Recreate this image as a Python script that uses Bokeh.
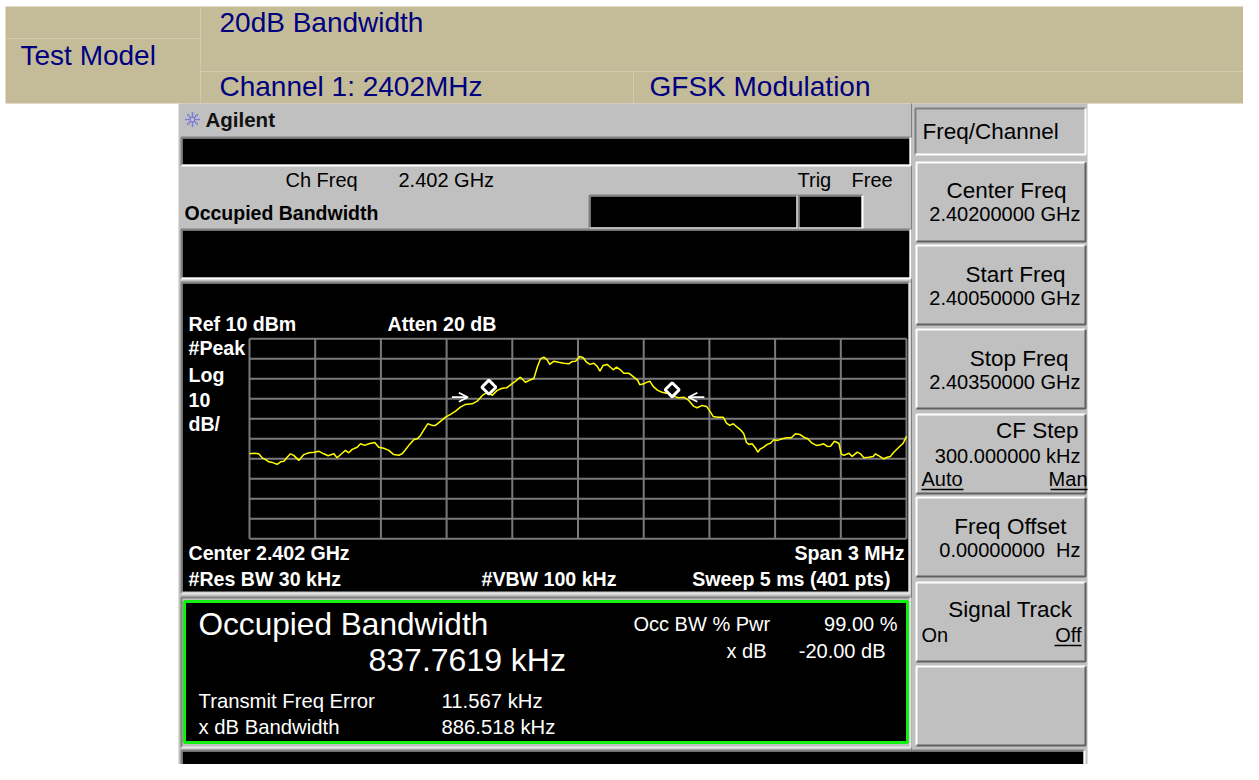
import numpy as np
from bokeh.plotting import figure
from bokeh.models import Range1d, Arrow, OpenHead
from bokeh.core.properties import value
from bokeh.embed import file_html
from bokeh.resources import INLINE

# ---------------- data ----------------
HEADER_LEFT = "Test Model"
HEADER_TITLE = "20dB Bandwidth"
HEADER_CHANNEL = "Channel 1: 2402MHz"
HEADER_MOD = "GFSK Modulation"

FREQ_START_MHZ = 2400.5
FREQ_STOP_MHZ = 2403.5
REF_LEVEL_DBM = 10
DB_PER_DIV = 10
N_DIV = 10

# trace (MHz, dBm)
FREQ_MHZ = [
    2400.500, 2400.520, 2400.542, 2400.558, 2400.576, 2400.588, 2400.604, 2400.626, 2400.642, 2400.657,
    2400.672, 2400.687, 2400.702, 2400.725, 2400.748, 2400.771, 2400.797, 2400.816, 2400.839, 2400.859,
    2400.885, 2400.900, 2400.923, 2400.938, 2400.953, 2400.969, 2400.992, 2401.007, 2401.026, 2401.045,
    2401.072, 2401.090, 2401.113, 2401.136, 2401.159, 2401.182, 2401.197, 2401.212, 2401.231, 2401.250,
    2401.266, 2401.281, 2401.296, 2401.314, 2401.334, 2401.349, 2401.372, 2401.395, 2401.418, 2401.441,
    2401.463, 2401.486, 2401.517, 2401.540, 2401.563, 2401.588, 2401.608, 2401.631, 2401.654, 2401.674,
    2401.692, 2401.715, 2401.737, 2401.760, 2401.783, 2401.798, 2401.814, 2401.829, 2401.844, 2401.859,
    2401.871, 2401.890, 2401.912, 2401.935, 2401.958, 2401.974, 2401.989, 2402.008, 2402.024, 2402.039,
    2402.054, 2402.072, 2402.088, 2402.100, 2402.115, 2402.133, 2402.148, 2402.161, 2402.176, 2402.194,
    2402.209, 2402.232, 2402.255, 2402.273, 2402.282, 2402.300, 2402.313, 2402.328, 2402.343, 2402.364,
    2402.384, 2402.404, 2402.422, 2402.437, 2402.460, 2402.483, 2402.506, 2402.529, 2402.544, 2402.567,
    2402.587, 2402.605, 2402.617, 2402.636, 2402.663, 2402.678, 2402.693, 2402.709, 2402.727, 2402.742,
    2402.757, 2402.769, 2402.780, 2402.795, 2402.811, 2402.821, 2402.833, 2402.848, 2402.864, 2402.879,
    2402.894, 2402.912, 2402.932, 2402.955, 2402.974, 2402.993, 2403.013, 2403.031, 2403.049, 2403.069,
    2403.089, 2403.107, 2403.122, 2403.138, 2403.153, 2403.171, 2403.191, 2403.202, 2403.214, 2403.237,
    2403.252, 2403.275, 2403.290, 2403.305, 2403.328, 2403.348, 2403.358, 2403.378, 2403.396, 2403.412,
    2403.427, 2403.442, 2403.465, 2403.485, 2403.500,
]
LEVEL_DBM = [
    -47.5, -47.2, -47.5, -49.5, -50.5, -51.5, -51.8, -52.8, -51.5, -51.2,
    -49.2, -47.5, -48.3, -50.8, -47.9, -47.0, -46.7, -46.2, -47.5, -48.5,
    -47.5, -49.5, -47.2, -45.8, -47.0, -45.3, -44.2, -42.5, -43.3, -42.5,
    -41.8, -44.2, -44.7, -45.8, -47.9, -48.2, -47.5, -45.5, -42.8, -40.5,
    -40.0, -38.3, -35.5, -32.5, -33.3, -33.3, -31.3, -29.2, -27.8, -26.2,
    -24.2, -22.8, -22.5, -21.2, -18.3, -16.7, -18.3, -15.8, -14.7, -14.5,
    -13.0, -11.2, -9.2, -11.7, -10.5, -10.0, -4.2, 0.0, 0.8, -0.5,
    -2.8, -1.2, -1.7, -2.2, -2.5, -1.3, -1.2, 1.2, 0.5, -1.7,
    -2.8, -2.2, -3.8, -6.2, -3.3, -2.8, -4.2, -5.5, -4.2, -5.5,
    -7.2, -7.2, -9.2, -10.8, -13.0, -12.5, -11.8, -11.2, -13.8, -15.8,
    -16.7, -17.2, -17.5, -18.8, -19.5, -19.2, -20.8, -23.8, -24.5, -23.3,
    -23.8, -26.7, -28.8, -29.2, -29.2, -32.2, -33.3, -32.5, -34.2, -35.5,
    -37.5, -41.7, -42.8, -42.5, -44.7, -46.7, -45.0, -44.2, -42.8, -42.2,
    -40.5, -40.8, -40.0, -39.5, -39.5, -37.5, -37.8, -39.2, -40.0, -42.2,
    -43.3, -43.0, -42.5, -43.8, -43.7, -41.2, -42.2, -47.5, -48.3, -47.2,
    -48.8, -46.7, -47.5, -49.5, -49.2, -48.8, -47.5, -48.8, -50.0, -49.2,
    -48.8, -46.7, -44.2, -42.2, -38.8,
]
# occupied-bandwidth markers (diamonds) and x-dB arrows
OBW_MARKER_FREQ = [2401.593, 2402.430]
OBW_MARKER_LEVEL = [-14.2, -15.5]
XDB_ARROW_FROM = [2401.424, 2402.577]
XDB_ARROW_TO = [2401.497, 2402.504]
XDB_ARROW_LEVEL = [-19.2, -19.2]

# softkeys: label, value, label right edge, label baseline, value baseline (offsets from key top)
SOFTKEYS = [
    ("Center Freq", "2.40200000 GHz", 1066, 37.0, 59.7),
    ("Start Freq", "2.40050000 GHz", 1065, 37.7, 60.0),
    ("Stop Freq", "2.40350000 GHz", 1068, 37.7, 60.3),
    ("CF Step", "300.000000 kHz", 1078, 25.3, 49.3),
    ("Freq Offset", "0.00000000\u00a0\u00a0Hz", 1066, 38.0, 60.3),
    ("Signal Track", "", 1072, 36.3, 0),
    ("", "", 0, 0, 0),
]

# ---------------- figure ----------------
W, H = 1243, 764
p = figure(width=W, height=H, x_range=Range1d(0, W), y_range=Range1d(H, 0),
           output_backend="svg", toolbar_location=None, min_border=0,
           x_axis_location=None, y_axis_location=None)
p.grid.visible = False
p.outline_line_color = None
p.background_fill_color = "white"
p.border_fill_color = "white"

# grid area on the page (pixels) -> library ranges for the trace
GX0, GX1 = 249.0, 906.0
GY0, GY1 = 338.3, 538.3
px_mhz = (GX1 - GX0) / (FREQ_STOP_MHZ - FREQ_START_MHZ)
px_db = (GY1 - GY0) / (N_DIV * DB_PER_DIV)
p.extra_x_ranges = {"freq": Range1d(FREQ_START_MHZ - GX0 / px_mhz,
                                    FREQ_START_MHZ + (W - GX0) / px_mhz)}
p.extra_y_ranges = {"db": Range1d(REF_LEVEL_DBM - (H - GY0) / px_db,
                                  REF_LEVEL_DBM + GY0 / px_db)}

FONT = "Liberation Sans"
GRAY = "#C0C0C0"
DARK = "#808080"
LIGHT = "#FFFFFF"
BASE_SHIFT = 0.40  # em: compensation of the renderer's baseline placement


def rect(l, t, r, b, fill, line=None, lw=1):
    p.quad(left=[l], right=[r], top=[t], bottom=[b], fill_color=fill,
           line_color=line, line_width=lw)


def bevel(l, t, r, b, tl, br, lw=2):
    p.line(x=[l, l, r], y=[b, t, t], line_color=tl, line_width=lw)
    p.line(x=[l, r, r], y=[b, b, t], line_color=br, line_width=lw)


def txt(x, y, s, size, color="black", bold=False, align="left", font=FONT):
    p.text(x=[x], y=[y - BASE_SHIFT * size], text=[s], text_font=value(font),
           text_font_size=f"{size}px", text_color=color,
           text_font_style="bold" if bold else "normal",
           text_align=align, text_baseline="alphabetic")


# header band
TAN = "#C4BC98"
NAVY = "#00007F"
rect(5, 6, 1260, 103, TAN)
for xs, ys in [([5, 200], [38, 38]), ([200, 1260], [71, 71]), ([200, 200], [6, 103]),
               ([633, 633], [71, 103]), ([1248, 1248], [6, 103])]:
    p.line(x=xs, y=ys, line_color="#D2CBAF", line_width=1)
txt(20, 66, HEADER_LEFT, 28, NAVY)
txt(219, 33, HEADER_TITLE, 28, NAVY)
txt(219, 97, HEADER_CHANNEL, 28, NAVY)
txt(649, 97, HEADER_MOD, 28, NAVY)

# instrument body
rect(178, 103, 1087, 781, GRAY)
p.line(x=[911, 911], y=[103, 750], line_color=DARK, line_width=1)

# Agilent logo
cx, cy = 192, 119
for k in range(8):
    a = k * np.pi / 4
    p.line(x=[cx + 2 * np.cos(a), cx + 7.5 * np.cos(a)], y=[cy + 2 * np.sin(a), cy + 7.5 * np.sin(a)],
           line_color="#3A3AF0", line_width=1.6, line_dash="1 1")
txt(205, 127, "Agilent", 20.5, "#111111", bold=True)

# status bars
rect(182, 138, 909, 164, "black")
bevel(181, 137, 910, 165, DARK, LIGHT)
txt(285, 187, "Ch Freq", 20)
txt(398, 187, "2.402 GHz", 20)
txt(797, 187, "Trig", 20)
txt(851, 187, "Free", 20)
txt(184, 220, "Occupied Bandwidth", 19.5, bold=True)
rect(590, 196, 796, 227, "black")
bevel(589, 195, 797, 228, DARK, LIGHT)
rect(799, 196, 861, 227, "black")
bevel(798, 195, 862, 228, DARK, LIGHT)
rect(182, 230, 909, 277, "black")
bevel(181, 229, 910, 278, DARK, LIGHT)

# spectrum screen
rect(182, 283, 908, 591, "black")
bevel(181, 282, 909, 593, DARK, "#E6E6E6", lw=2)

fticks = FREQ_START_MHZ + (FREQ_STOP_MHZ - FREQ_START_MHZ) * np.arange(N_DIV + 1) / N_DIV
dticks = REF_LEVEL_DBM - DB_PER_DIV * np.arange(N_DIV + 1)
bottom_db = REF_LEVEL_DBM - DB_PER_DIV * N_DIV
p.segment(x0=fticks, x1=fticks, y0=[REF_LEVEL_DBM] * len(fticks), y1=[bottom_db] * len(fticks),
          x_range_name="freq", y_range_name="db", line_color="#7A7A7A", line_width=2)
p.segment(x0=[FREQ_START_MHZ] * len(dticks), x1=[FREQ_STOP_MHZ] * len(dticks), y0=dticks, y1=dticks,
          x_range_name="freq", y_range_name="db", line_color="#7A7A7A", line_width=2)
p.line(x=FREQ_MHZ, y=LEVEL_DBM, x_range_name="freq", y_range_name="db",
       line_color="#FFFF00", line_width=1.5)
p.scatter(x=OBW_MARKER_FREQ, y=OBW_MARKER_LEVEL, x_range_name="freq", y_range_name="db",
          marker="square", angle=np.pi / 4, size=10, fill_color="black",
          line_color="white", line_width=3)
for f0, f1, lv in zip(XDB_ARROW_FROM, XDB_ARROW_TO, XDB_ARROW_LEVEL):
    p.add_layout(Arrow(x_start=f0, y_start=lv, x_end=f1, y_end=lv,
                       x_range_name="freq", y_range_name="db",
                       line_color="white", line_width=1.8,
                       end=OpenHead(size=9, line_color="white", line_width=1.8)))

WB = dict(color="white", bold=True)
BS = 19.6
txt(188, 331.5, "Ref 10 dBm", BS, **WB)
txt(387, 331.5, "Atten 20 dB", BS, **WB)
txt(188, 355.5, "#Peak", BS, **WB)
txt(188, 382, "Log", BS, **WB)
txt(188, 407.5, "10", BS, **WB)
txt(188, 431.5, "dB/", BS, **WB)
txt(188, 560.5, "Center 2.402 GHz", BS, **WB)
txt(904, 560.5, "Span 3 MHz", BS, align="right", **WB)
txt(188, 586.5, "#Res BW 30 kHz", BS, **WB)
txt(481, 586.5, "#VBW 100 kHz", BS, **WB)
txt(890, 586.5, "Sweep 5 ms (401 pts)", BS, align="right", **WB)

# result box
bevel(181, 597, 910, 747, DARK, "#E6E6E6", lw=2)
rect(184, 601, 907, 742, "black", line="#12F012", lw=3)
txt(198, 636, "Occupied Bandwidth", 31.6, "white")
txt(368, 672.5, "837.7619 kHz", 32, "white")
txt(633, 631, "Occ BW % Pwr", 20, "white")
txt(897, 631, "99.00 %", 20, "white", align="right")
txt(726, 658, "x dB", 20, "white")
txt(885, 658, "-20.00 dB", 20, "white", align="right")
txt(198, 709, "Transmit Freq Error", 20.3, "white")
txt(441, 709, "11.567 kHz", 20.3, "white")
txt(198, 734.5, "x dB Bandwidth", 20.3, "white")
txt(441, 734.5, "886.518 kHz", 20.3, "white")

# bottom bar
rect(182, 751, 1083, 781, "black")
bevel(181, 750, 1084, 782, DARK, LIGHT)

# softkeys
rect(915, 108, 1085, 154, GRAY)
bevel(915, 108, 1085, 154, DARK, LIGHT, lw=2)
txt(922, 139.5, "Freq/Channel", 22.5)
KEY_TOPS = [162, 245, 329, 414, 497, 582, 666]
KEY_H = 79
for (lab, val, lr, lb, vb), top in zip(SOFTKEYS, KEY_TOPS):
    bot = top + KEY_H
    rect(916, top, 1085, bot, GRAY)
    bevel(916, top, 1085, bot, LIGHT, "#606060", lw=2)
    if lab:
        txt(lr, top + lb, lab, 22.5, align="right")
    if val:
        txt(1080, top + vb, val, 20, align="right")
# CF Step / Signal Track choices
txt(921, 486, "Auto", 20)
txt(1087, 486, "Man", 20, align="right")
p.segment(x0=[921, 1050], x1=[963, 1087], y0=[489, 489], y1=[489, 489], line_color="black", line_width=1.5)
txt(921, 642, "On", 20)
txt(1081, 642, "Off", 20, align="right")
p.segment(x0=[1054], x1=[1081], y0=[645], y1=[645], line_color="black", line_width=1.5)

open("out.html", "w").write(file_html(p, INLINE))
